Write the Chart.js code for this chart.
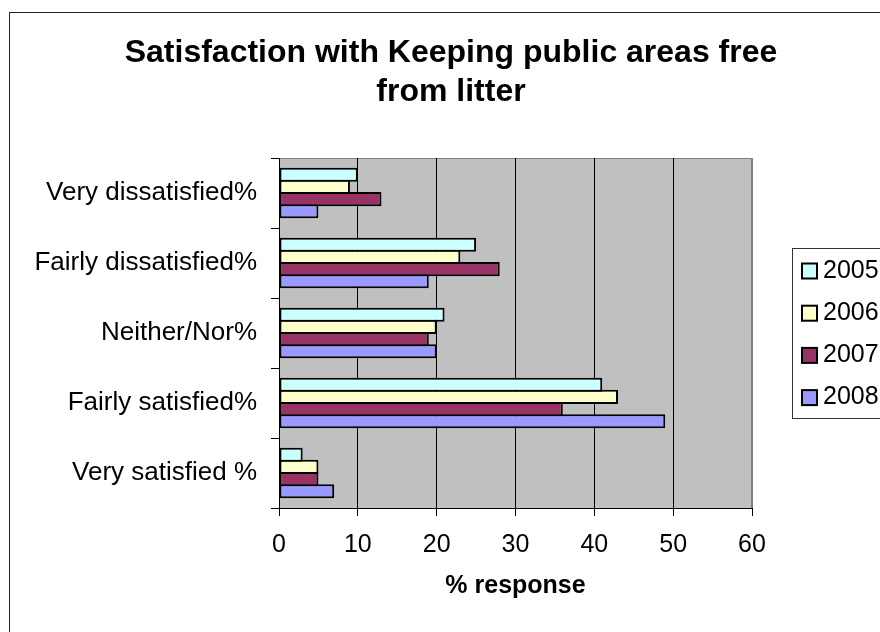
<!DOCTYPE html>
<html>
<head>
<meta charset="utf-8">
<script src="https://cdn.jsdelivr.net/npm/chart.js@4/dist/chart.umd.min.js"></script>
<style>
  html, body { margin: 0; padding: 0; background: #fff; }
  canvas { display: block; }
</style>
</head>
<body>
<canvas id="chart" width="880" height="632"></canvas>
<script>
const categories = ["Very dissatisfied%", "Fairly dissatisfied%", "Neither/Nor%", "Fairly satisfied%", "Very satisfied %"];
const years = ["2005", "2006", "2007", "2008"];
const values2005 = [10, 25, 21, 41, 3];
const values2006 = [9, 23, 20, 43, 5];
const values2007 = [13, 28, 19, 36, 5];
const values2008 = [5, 19, 20, 49, 7];
const xTicks = [0, 10, 20, 30, 40, 50, 60];
const titleLines = ["Satisfaction with Keeping public areas free", "from litter"];
const axisTitle = "% response";

const fills = ["#ccffff", "#ffffcc", "#993366", "#9999ff"];
const FONT = "'Liberation Sans', Arial, sans-serif";

// background, frame, plot area and the two-line heading
const frame = {
    id: "frame",
    beforeDraw(chart) {
        const ctx = chart.ctx;
        const a = chart.chartArea;
        ctx.save();
        ctx.fillStyle = "#fff";
        ctx.fillRect(0, 0, chart.width, chart.height);

        ctx.strokeStyle = "#222";
        ctx.lineWidth = 1;
        ctx.strokeRect(9.5, 12.5, chart.width + 40, chart.height + 40);

        ctx.fillStyle = "#c0c0c0";
        ctx.fillRect(a.left, a.top, a.right - a.left, a.bottom - a.top);
        ctx.strokeStyle = "#808080";
        ctx.beginPath();
        ctx.moveTo(a.left, a.top + 0.5);
        ctx.lineTo(a.right - 0.5, a.top + 0.5);
        ctx.lineTo(a.right - 0.5, a.bottom);
        ctx.stroke();

        ctx.fillStyle = "#000";
        ctx.font = "bold 32px " + FONT;
        ctx.textAlign = "center";
        ctx.textBaseline = "middle";
        titleLines.forEach((line, i) => ctx.fillText(line, 451, 53 + i * 39));
        ctx.restore();
    },
    // legend box on the right, cut by the canvas edge
    afterDraw(chart) {
        const ctx = chart.ctx;
        ctx.save();
        ctx.strokeStyle = "#333";
        ctx.lineWidth = 1;
        ctx.strokeRect(792.5, 248.5, 200, 170);
        ctx.font = "25px " + FONT;
        ctx.textAlign = "left";
        ctx.textBaseline = "middle";
        chart.data.datasets.forEach((ds, i) => {
            const y = 271 + i * 42.2;
            ctx.fillStyle = ds.backgroundColor;
            ctx.fillRect(802, y - 7.5, 15, 15);
            ctx.lineWidth = 2;
            ctx.strokeStyle = "#000";
            ctx.strokeRect(802, y - 7.5, 15, 15);
            ctx.fillStyle = "#000";
            ctx.fillText(ds.label, 823, y);
        });
        ctx.restore();
    }
};

const series = [values2005, values2006, values2007, values2008];

const context = document.getElementById("chart").getContext("2d");
new Chart(context, {
    type: "bar",
    data: {
        labels: categories,
        datasets: series.map((data, i) => ({
            label: years[i],
            data: data,
            backgroundColor: fills[i],
            borderColor: "#000",
            borderWidth: 2,
            borderSkipped: false,
            categoryPercentage: 0.696,
            barPercentage: 1.164
        }))
    },
    options: {
        indexAxis: "y",
        responsive: false,
        animation: false,
        layout: { padding: { top: 158, right: 128, left: 0, bottom: 0 } },
        plugins: {
            legend: { display: false },
            tooltip: { enabled: false }
        },
        scales: {
            x: {
                min: xTicks[0],
                max: xTicks[xTicks.length - 1],
                afterFit: (scale) => { scale.height = 124; },
                ticks: {
                    stepSize: xTicks[1] - xTicks[0],
                    color: "#000",
                    padding: 14,
                    font: { family: FONT, size: 25 }
                },
                grid: {
                    color: (c) => (c.tick && c.tick.value === xTicks[xTicks.length - 1]) ? "#808080" : "#000",
                    tickColor: "#000",
                    lineWidth: 1,
                    tickLength: 8
                },
                border: { color: "#000", width: 1 },
                title: {
                    display: true,
                    text: axisTitle,
                    color: "#000",
                    font: { family: FONT, size: 25, weight: "bold" },
                    padding: { top: 0, bottom: 31 }
                }
            },
            y: {
                afterFit: (scale) => { scale.width = 279; },
                ticks: {
                    color: "#000",
                    padding: 14,
                    font: { family: FONT, size: 26 }
                },
                grid: {
                    drawOnChartArea: false,
                    tickColor: "#000",
                    tickLength: 8
                },
                border: { color: "#000", width: 1 }
            }
        }
    },
    plugins: [frame]
});
</script>
</body>
</html>
